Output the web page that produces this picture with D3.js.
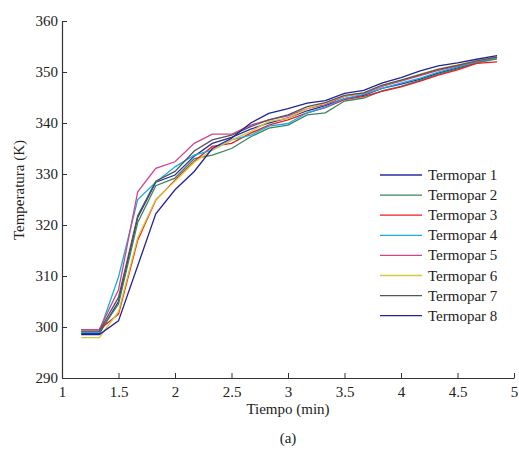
<!DOCTYPE html>
<html>
<head>
<meta charset="utf-8">
<script src="https://cdn.jsdelivr.net/npm/d3@7"></script>
<style>
  body { margin: 0; background: #fff; }
  svg text { font-family: "Liberation Serif", "Times New Roman", Times, "DejaVu Serif", serif; fill: #222; }
</style>
</head>
<body>
<svg id="canvas" width="519" height="450"></svg>
<script>
// time (min)
let tiempo = [1.17, 1.33, 1.5, 1.67, 1.83, 2.0, 2.17, 2.33, 2.5, 2.67, 2.83, 3.0, 3.17, 3.33, 3.5, 3.67, 3.83, 4.0, 4.17, 4.33, 4.5, 4.67, 4.85]

// temperatures (K) per thermocouple
let termopar1 = [298.7, 298.7, 305.0, 321.5, 328.4, 329.8, 333.5, 336.0, 337.2, 338.8, 340.0, 341.0, 342.4, 343.4, 344.8, 345.4, 346.8, 347.6, 348.6, 349.8, 350.8, 351.8, 352.8]
let termopar2 = [299.0, 299.0, 304.5, 320.5, 327.7, 329.2, 333.0, 333.7, 335.0, 337.3, 339.0, 339.6, 341.6, 342.0, 344.3, 344.9, 346.3, 347.2, 348.4, 349.6, 350.6, 351.8, 352.6]
let termopar3 = [299.5, 299.5, 302.5, 317.0, 324.9, 328.8, 332.5, 335.4, 336.0, 338.0, 339.6, 340.6, 342.0, 343.0, 344.6, 345.2, 346.2, 347.1, 348.2, 349.4, 350.4, 351.7, 352.0]
let termopar4 = [299.0, 299.0, 309.8, 325.0, 328.4, 331.4, 333.7, 334.7, 336.7, 337.6, 339.4, 339.9, 342.0, 343.1, 344.8, 345.6, 346.8, 347.8, 348.8, 350.0, 351.0, 352.0, 352.8]
let termopar5 = [299.5, 299.5, 307.3, 326.5, 331.1, 332.4, 336.0, 337.8, 337.8, 339.6, 340.6, 341.4, 342.8, 343.6, 345.2, 345.8, 347.2, 348.2, 349.3, 350.3, 351.2, 352.1, 352.9]
let termopar6 = [297.9, 297.9, 303.0, 317.5, 325.0, 328.6, 332.3, 334.7, 336.7, 338.3, 340.3, 340.9, 342.8, 343.9, 345.3, 345.9, 347.4, 348.4, 349.6, 350.6, 351.4, 352.2, 352.9]
let termopar7 = [299.2, 299.2, 305.8, 321.8, 328.6, 330.5, 334.5, 336.7, 337.6, 339.3, 340.6, 341.6, 343.2, 344.0, 345.4, 345.9, 347.4, 348.4, 349.5, 350.5, 351.3, 352.2, 352.9]
let termopar8 = [298.5, 298.5, 301.2, 312.0, 322.2, 326.9, 330.5, 335.0, 337.0, 340.0, 341.9, 342.8, 343.9, 344.4, 345.8, 346.4, 347.8, 348.9, 350.2, 351.2, 351.8, 352.5, 353.2]

let nombres = ['Termopar 1', 'Termopar 2', 'Termopar 3', 'Termopar 4', 'Termopar 5', 'Termopar 6', 'Termopar 7', 'Termopar 8']
let colores = ['#2b2b9e', '#3a8658', '#ec1c24', '#16aee0', '#d2438c', '#d9c53a', '#555555', '#232396']
let series = [termopar1, termopar2, termopar3, termopar4, termopar5, termopar6, termopar7, termopar8]

let xTicks = [1, 1.5, 2, 2.5, 3, 3.5, 4, 4.5, 5]
let yTicks = [290, 300, 310, 320, 330, 340, 350, 360]

let fuente = '"Liberation Serif", "Times New Roman", Times, "DejaVu Serif", serif'
let canvas = d3.select('#canvas')
let mLeft = 62, mRight = 514, mTop = 21, mBottom = 378

let xScale = d3.scaleLinear().domain([1, 5]).range([mLeft, mRight])
let yScale = d3.scaleLinear().domain([290, 360]).range([mBottom, mTop])

// lines
let line = d3.line()
             .x((d, i) => xScale(tiempo[i]))
             .y(d => yScale(d))

canvas.selectAll('path.serie')
      .data(series)
      .enter()
      .append('path')
      .attr('class', 'serie')
      .attr('d', d => line(d))
      .attr('fill', 'none')
      .attr('stroke', (d, i) => colores[i])
      .attr('stroke-width', 1.3)

// axes (ticks pointing inward, matlab style)
let xAxis = d3.axisBottom(xScale).tickValues(xTicks).tickFormat(d3.format('')).tickSizeInner(-5).tickSizeOuter(0).tickPadding(8)
let yAxis = d3.axisLeft(yScale).tickValues(yTicks).tickFormat(d3.format('')).tickSizeInner(-5).tickSizeOuter(0).tickPadding(4)

let gx = canvas.append('g').attr('transform', 'translate(0,' + mBottom + ')').call(xAxis)
let gy = canvas.append('g').attr('transform', 'translate(' + mLeft + ',0)').call(yAxis)

;[gx, gy].forEach(g => {
  g.attr('font-family', fuente).attr('font-size', 15)
  g.select('.domain').attr('stroke', '#333').attr('stroke-width', 1.2)
  g.selectAll('.tick line').attr('stroke', '#333').attr('stroke-width', 1)
  g.selectAll('.tick text').attr('fill', '#222')
})

// axis titles
canvas.append('text')
      .attr('x', (mLeft + mRight) / 2)
      .attr('y', 414)
      .attr('text-anchor', 'middle')
      .attr('font-family', fuente)
      .attr('font-size', 15)
      .text('Tiempo (min)')

canvas.append('text')
      .attr('transform', 'translate(24,' + 190 + ') rotate(-90)')
      .attr('text-anchor', 'middle')
      .attr('font-family', fuente)
      .attr('font-size', 15)
      .text('Temperatura (K)')

canvas.append('text')
      .attr('x', (mLeft + mRight) / 2)
      .attr('y', 443)
      .attr('text-anchor', 'middle')
      .attr('font-family', fuente)
      .attr('font-size', 15)
      .text('(a)')

// legend
let legend = canvas.append('g').attr('font-family', fuente).attr('font-size', 15)
let rowY = i => 175 + i * 20.1

legend.selectAll('line')
      .data(nombres)
      .enter()
      .append('line')
      .attr('x1', 380)
      .attr('x2', 422)
      .attr('y1', (d, i) => rowY(i))
      .attr('y2', (d, i) => rowY(i))
      .attr('stroke', (d, i) => colores[i])
      .attr('stroke-width', 1.3)

legend.selectAll('text')
      .data(nombres)
      .enter()
      .append('text')
      .attr('x', 428)
      .attr('y', (d, i) => rowY(i) + 5)
      .text(d => d)
</script>
</body>
</html>
